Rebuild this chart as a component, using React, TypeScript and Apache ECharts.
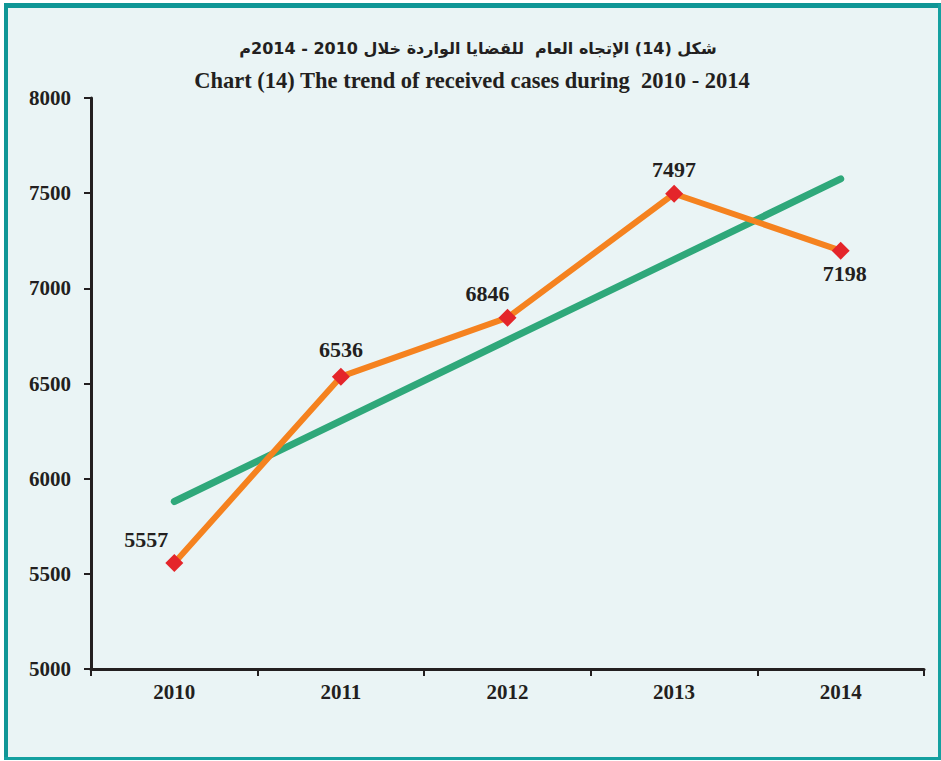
import React, { useEffect, useRef } from "react";
import * as echarts from "echarts";

const years = ["2010", "2011", "2012", "2013", "2014"];
const cases = [5557, 6536, 6846, 7497, 7198];
const trendEnds = [5880, 7575];
const yTicks = { min: 5000, max: 8000, step: 500 };
const titleAr = "شكل (14) الإتجاه العام  للقضايا الواردة خلال 2010 - 2014م";
const titleEn = "Chart (14) The trend of received cases during  2010 - 2014";

const labelOffsets: [number, number][] = [
  [-28, 5],
  [0, 1],
  [-20, 4],
  [0, 4],
  [4, -5],
];
const labelPos = ["top", "top", "top", "top", "bottom"];

export default function App() {
  const ref = useRef<HTMLDivElement>(null);
  useEffect(() => {
    if (!ref.current) return;
    const chart = echarts.init(ref.current, null, { renderer: "svg" });
    const serif = "'Liberation Serif', 'Times New Roman', serif";
    const axisColor = "#231f20";
    chart.setOption({
      animation: false,
      backgroundColor: "#ffffff",
      grid: { left: 91, top: 98, right: 17, bottom: 92, containLabel: false },
      xAxis: {
        type: "category",
        data: years,
        boundaryGap: true,
        axisLine: { lineStyle: { color: axisColor, width: 3 } },
        axisTick: { show: true, length: 7, lineStyle: { color: axisColor, width: 2 } },
        axisLabel: {
          color: axisColor,
          fontFamily: serif,
          fontWeight: "bold",
          fontSize: 21,
          margin: 12,
        },
        splitLine: { show: false },
      },
      yAxis: {
        type: "value",
        min: yTicks.min,
        max: yTicks.max,
        interval: yTicks.step,
        axisLine: { show: true, lineStyle: { color: axisColor, width: 3 } },
        axisTick: { show: true, length: 7, lineStyle: { color: axisColor, width: 2 } },
        axisLabel: {
          color: axisColor,
          fontFamily: serif,
          fontWeight: "bold",
          fontSize: 21,
          margin: 20,
          formatter: (v: number) => String(v),
        },
        splitLine: { show: false },
      },
      graphic: [
        { type: "rect", shape: { x: 4, y: 4, width: 937, height: 756 }, style: { fill: "#eaf4f5" }, z: -10 },
        { type: "rect", shape: { x: 4, y: 4, width: 4, height: 756 }, style: { fill: "#0f9696" }, z: -9 },
        { type: "rect", shape: { x: 4, y: 3, width: 937, height: 5 }, style: { fill: "#0f9696" }, z: -9 },
        { type: "rect", shape: { x: 938, y: 4, width: 3, height: 756 }, style: { fill: "#14a0a0" }, z: -9 },
        { type: "rect", shape: { x: 4, y: 757, width: 937, height: 3 }, style: { fill: "#14a0a0" }, z: -9 },
        {
          type: "text",
          x: 478,
          y: 48,
          style: {
            text: titleAr,
            fill: axisColor,
            font: "bold 16px 'DejaVu Sans', 'Noto Sans', sans-serif",
            textAlign: "center",
            textVerticalAlign: "middle",
          },
        },
        {
          type: "text",
          x: 472,
          y: 80,
          style: {
            text: titleEn,
            fill: axisColor,
            font: "bold 22.5px 'Liberation Serif', 'Times New Roman', serif",
            textAlign: "center",
            textVerticalAlign: "middle",
          },
        },
      ],
      series: [
        {
          type: "line",
          data: [
            [0, trendEnds[0]],
            [years.length - 1, trendEnds[1]],
          ],
          symbol: "none",
          lineStyle: { color: "#2fa87a", width: 7, cap: "round" },
          z: 2,
          silent: true,
        },
        {
          type: "line",
          data: cases.map((v, i) => ({
            value: v,
            label: {
              show: true,
              position: labelPos[i],
              offset: labelOffsets[i],
              distance: 8,
            },
          })),
          symbol: "diamond",
          symbolSize: 18,
          itemStyle: { color: "#e4252a" },
          lineStyle: { color: "#f5821f", width: 6 },
          label: {
            color: axisColor,
            fontFamily: serif,
            fontWeight: "bold",
            fontSize: 22,
          },
          z: 3,
        },
      ],
    });
    return () => chart.dispose();
  }, []);
  return (
    <div
      ref={ref}
      style={{ position: "absolute", left: 0, top: 0, width: 941, height: 761 }}
    />
  );
}
